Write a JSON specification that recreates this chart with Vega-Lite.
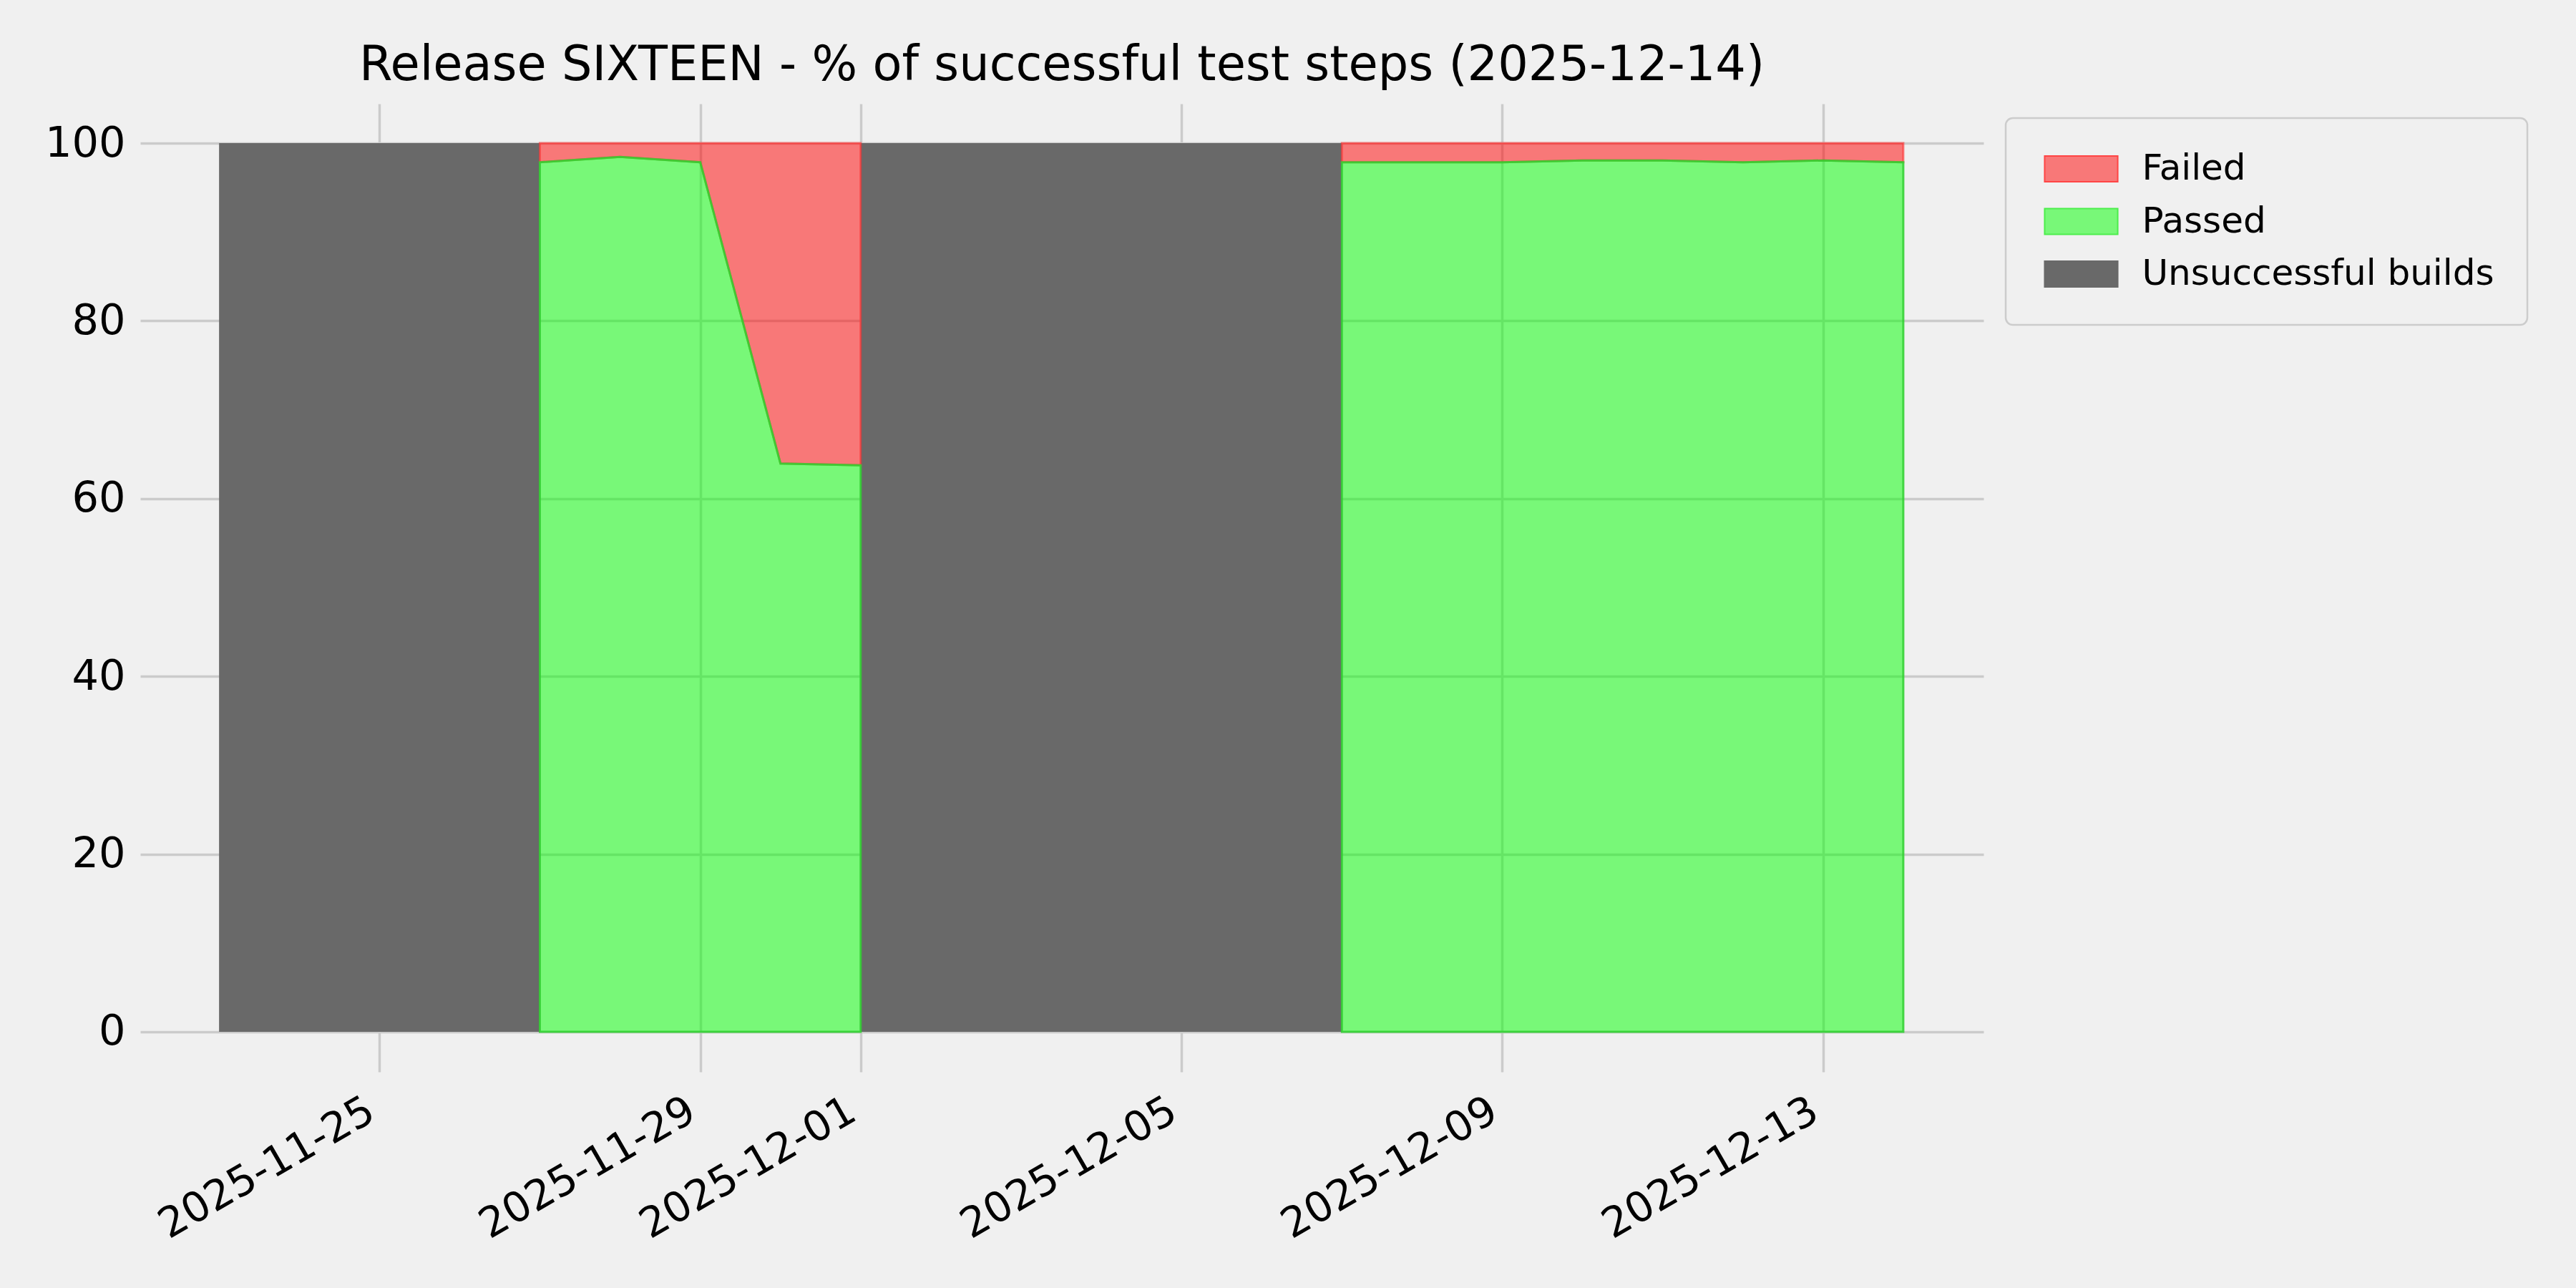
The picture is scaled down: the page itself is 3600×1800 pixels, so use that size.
{
  "$schema": "https://vega.github.io/schema/vega-lite/v6.json",
  "autosize": {"type": "none"},
  "width": 2576,
  "height": 1353,
  "padding": {"left": 196, "top": 145, "right": 828, "bottom": 302},
  "background": "#f0f0f0",
  "title": {
    "text": "Release SIXTEEN - % of successful test steps (2025-12-14)",
    "font": "DejaVu Sans",
    "fontSize": 67,
    "fontWeight": "normal",
    "color": "#000000",
    "anchor": "middle",
    "baseline": "alphabetic",
    "offset": 32,
    "dy": 66
  },
  "config": {
    "view": {"stroke": null},
    "font": "DejaVu Sans"
  },
  "datasets": {
    "tests": [
      {"date": "2025-11-27", "run": "A", "passed": 97.85},
      {"date": "2025-11-28", "run": "A", "passed": 98.45},
      {"date": "2025-11-29", "run": "A", "passed": 97.85},
      {"date": "2025-11-30", "run": "A", "passed": 63.95},
      {"date": "2025-12-01", "run": "A", "passed": 63.75},
      {"date": "2025-12-07", "run": "B", "passed": 97.85},
      {"date": "2025-12-08", "run": "B", "passed": 97.85},
      {"date": "2025-12-09", "run": "B", "passed": 97.85},
      {"date": "2025-12-10", "run": "B", "passed": 98.05},
      {"date": "2025-12-11", "run": "B", "passed": 98.05},
      {"date": "2025-12-12", "run": "B", "passed": 97.85},
      {"date": "2025-12-13", "run": "B", "passed": 98.05},
      {"date": "2025-12-14", "run": "B", "passed": 97.85}
    ],
    "builds": [
      {"start": "2025-11-23", "end": "2025-11-27", "status": "Unsuccessful builds", "pct": 100},
      {"start": "2025-12-01", "end": "2025-12-07", "status": "Unsuccessful builds", "pct": 100}
    ]
  },
  "encoding": {
    "x": {
      "field": "date",
      "type": "temporal",
      "title": null,
      "scale": {
        "type": "utc",
        "domain": [
          {"year": 2025, "month": 11, "date": 22, "hours": 0, "minutes": 25, "utc": true},
          {"year": 2025, "month": 12, "date": 15, "utc": true}
        ]
      },
      "axis": {
        "values": [
          {"year": 2025, "month": 11, "date": 25, "utc": true},
          {"year": 2025, "month": 11, "date": 29, "utc": true},
          {"year": 2025, "month": 12, "date": 1, "utc": true},
          {"year": 2025, "month": 12, "date": 5, "utc": true},
          {"year": 2025, "month": 12, "date": 9, "utc": true},
          {"year": 2025, "month": 12, "date": 13, "utc": true}
        ],
        "format": "%Y-%m-%d",
        "labelAngle": -30,
        "labelAlign": "right",
        "labelBaseline": "top",
        "labelOffset": -26,
        "labelPadding": 25,
        "labelFont": "DejaVu Sans",
        "labelFontSize": 58,
        "labelColor": "#000000",
        "labelLimit": 1000,
        "labelOverlap": false,
        "labelFlush": false,
        "ticks": false,
        "tickSize": 0,
        "domain": false,
        "grid": true,
        "gridColor": "#cbcbcb",
        "gridWidth": 3.5
      }
    }
  },
  "layer": [
    {
      "data": {"name": "builds"},
      "mark": {"type": "rect"},
      "encoding": {
        "x": {"field": "start", "type": "temporal"},
        "x2": {"field": "end"},
        "y": {
          "field": "pct",
          "type": "quantitative",
          "title": null,
          "scale": {"domain": [-4.51, 104.43], "nice": false, "zero": false},
          "axis": {
            "values": [0, 20, 40, 60, 80, 100],
            "labelFont": "DejaVu Sans",
            "labelFontSize": 59,
            "labelColor": "#000000",
            "labelPadding": 21,
            "labelLimit": 1000,
            "ticks": false,
            "tickSize": 0,
            "domain": false,
            "grid": true,
            "gridColor": "#cbcbcb",
            "gridWidth": 3.5
          }
        },
        "y2": {"datum": 0},
        "fill": {
          "field": "status",
          "type": "nominal",
          "scale": {
            "domain": ["Failed", "Passed", "Unsuccessful builds"],
            "range": ["#f87878", "#78f878", "#696969"]
          },
          "legend": {
            "title": null,
            "orient": "none",
            "legendX": 2607,
            "legendY": 20,
            "padding": 46,
            "rowPadding": 23.5,
            "fillColor": "#f0f0f0",
            "strokeColor": "#cccccc",
            "cornerRadius": 10,
            "labelFont": "DejaVu Sans",
            "labelFontSize": 50,
            "labelColor": "#000000",
            "labelLimit": 1000,
            "labelOffset": 60,
            "symbolType": "M-2.76,-0.97H2.76V0.97H-2.76Z",
            "symbolSize": 1369,
            "symbolStrokeWidth": 2,
            "symbolOffset": 34.5,
            "symbolOpacity": 1,
            "encoding": {
              "legend": {
                "strokeWidth": {"value": 2.5}
              },
              "symbols": {
                "stroke": {
                  "condition": [
                    {"test": "datum.value === 'Failed'", "value": "#ff4545"},
                    {"test": "datum.value === 'Passed'", "value": "#4cee4c"}
                  ],
                  "value": "#696969"
                },
                "opacity": {"value": 1}
              }
            }
          }
        }
      }
    },
    {
      "data": {"name": "tests"},
      "mark": {"type": "area", "fill": "#ff0000", "fillOpacity": 0.5, "stroke": "#ff3030", "strokeOpacity": 0.6, "strokeWidth": 3, "interpolate": "linear"},
      "encoding": {
        "y": {"field": "passed", "type": "quantitative", "stack": null},
        "y2": {"datum": 100},
        "detail": {"field": "run", "type": "nominal"}
      }
    },
    {
      "data": {"name": "tests"},
      "mark": {"type": "area", "fill": "#00ff00", "fillOpacity": 0.5, "stroke": "#30d030", "strokeOpacity": 0.85, "strokeWidth": 3, "interpolate": "linear"},
      "encoding": {
        "y": {"field": "passed", "type": "quantitative", "stack": null},
        "y2": {"datum": 0},
        "detail": {"field": "run", "type": "nominal"}
      }
    },
    {
      "mark": {"type": "rule", "color": "#000000", "strokeWidth": 8, "strokeDash": [31, 13]},
      "encoding": {
        "y": {"datum": 100}
      }
    }
  ]
}
